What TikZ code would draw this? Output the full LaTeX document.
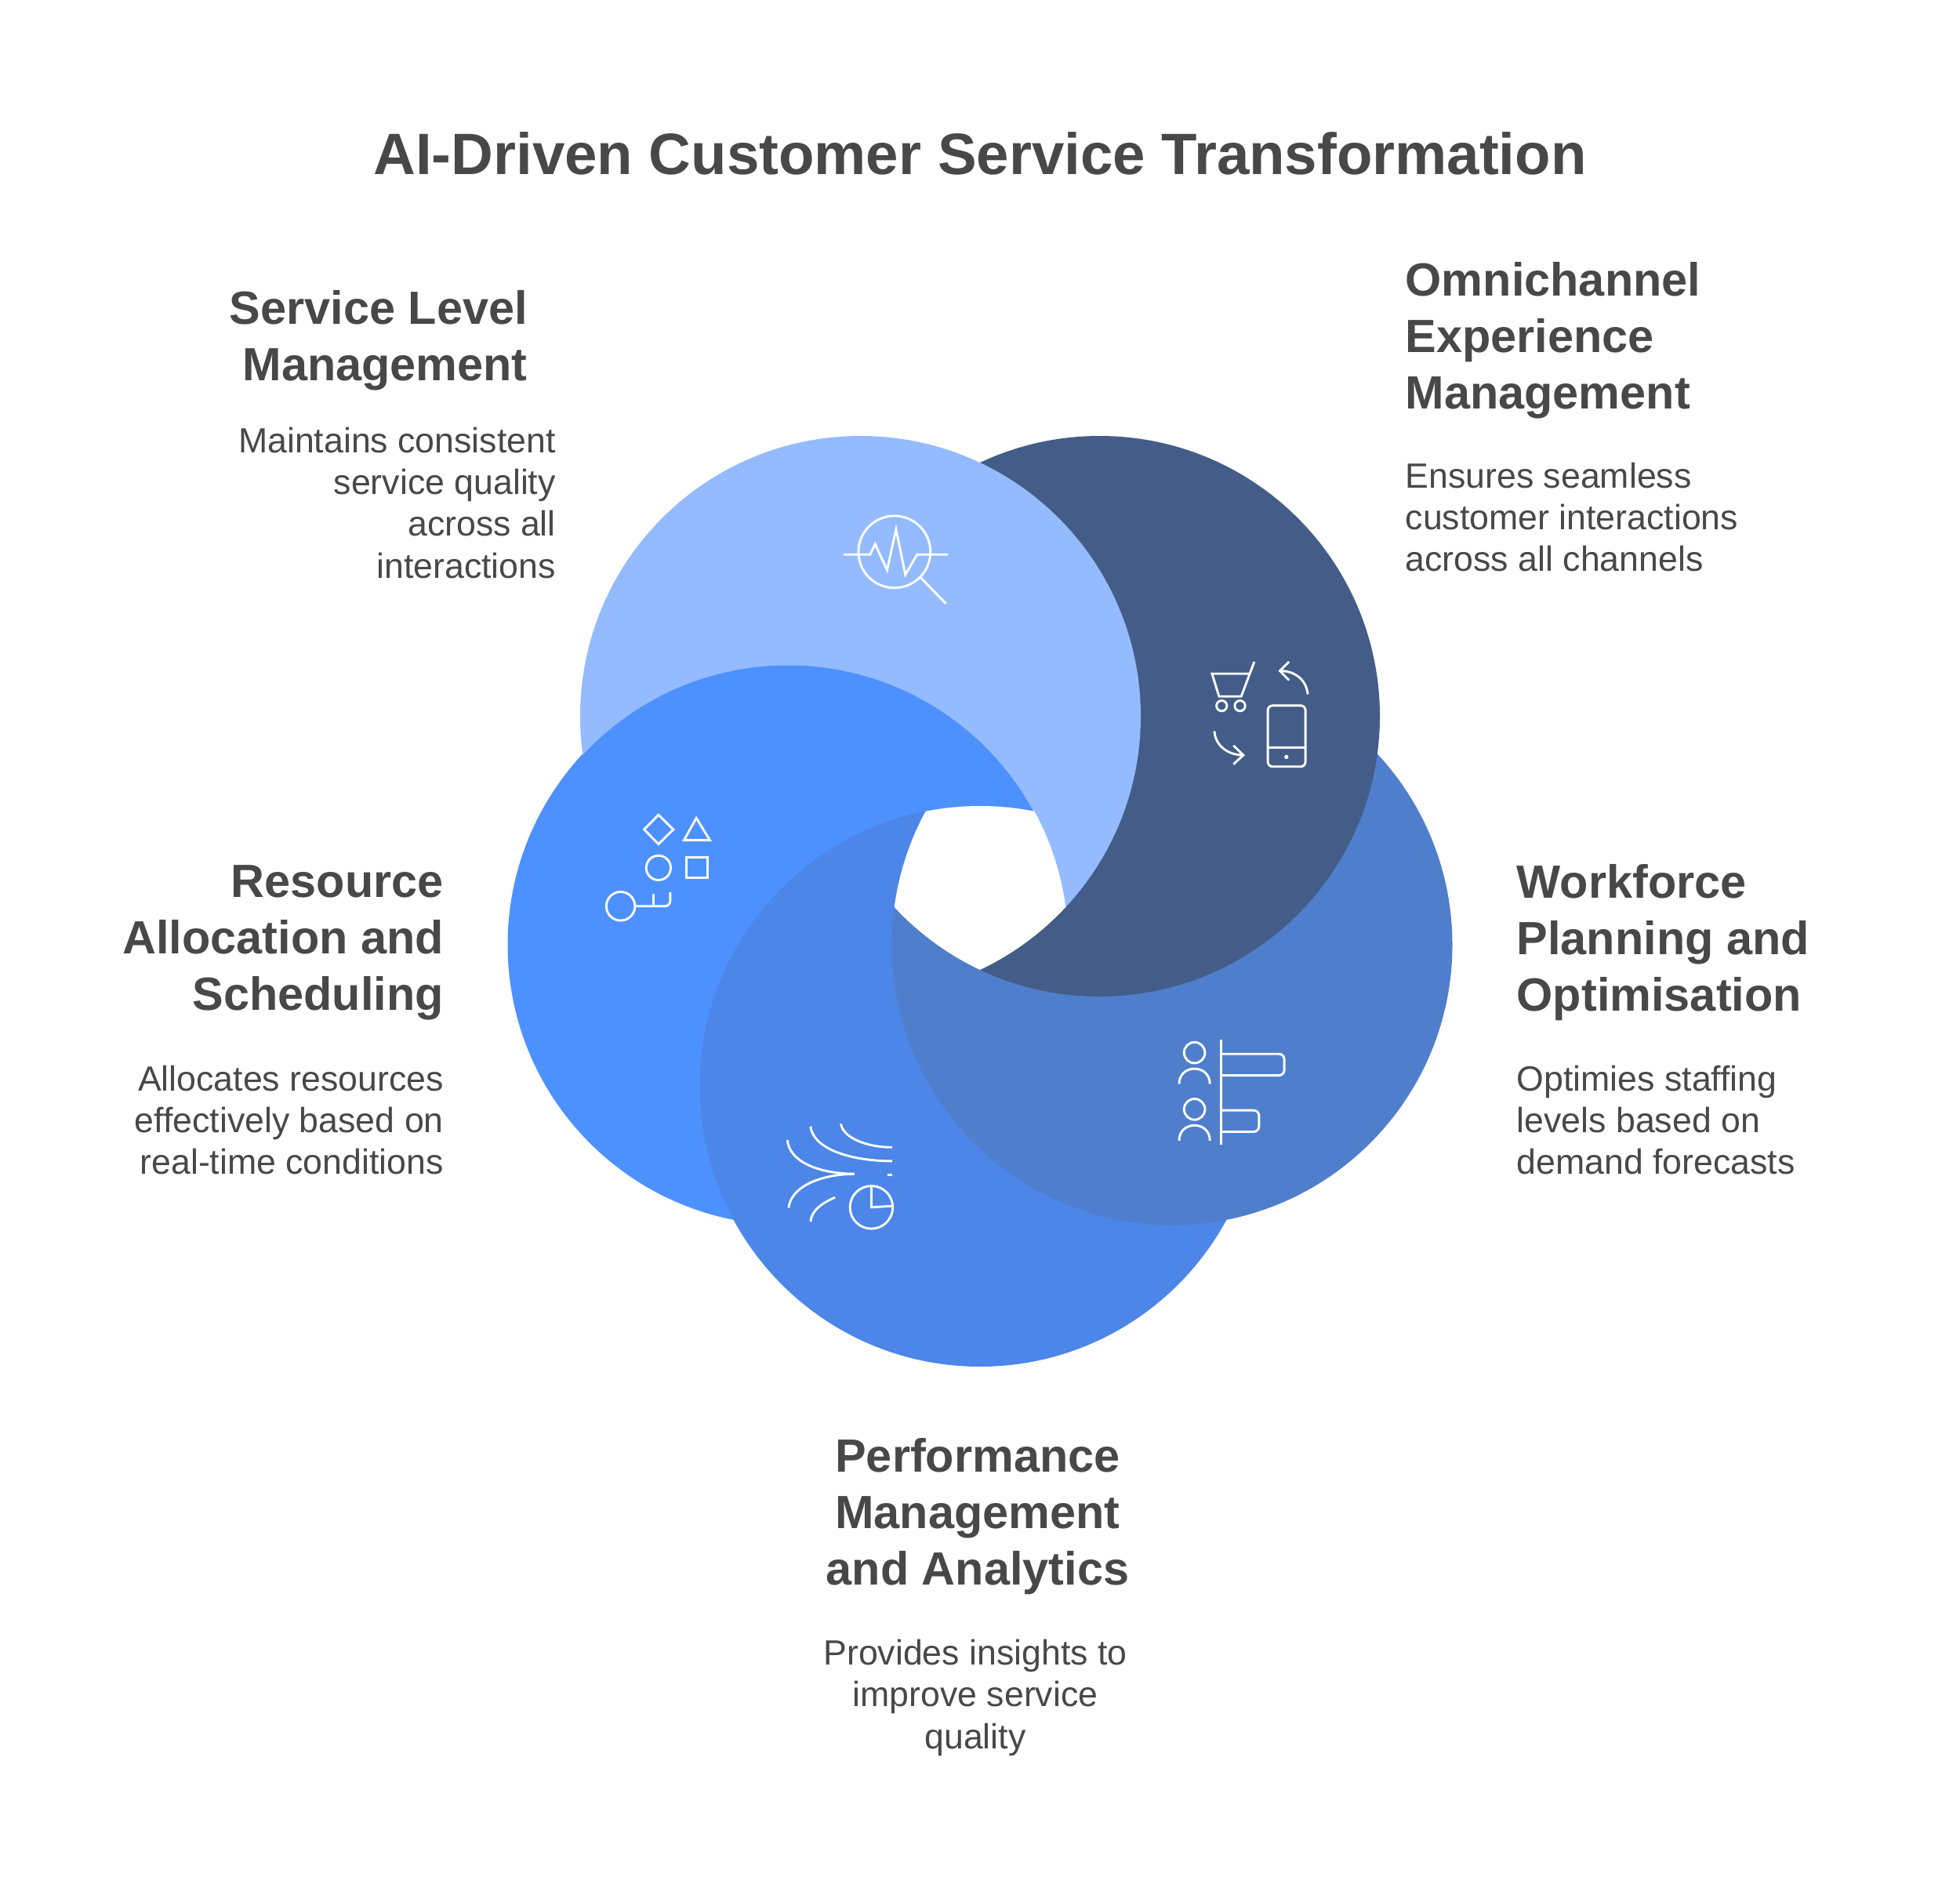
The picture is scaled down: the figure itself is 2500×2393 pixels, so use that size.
\documentclass[tikz,border=0pt]{standalone}
\usepackage{fontspec}
\setmainfont{Liberation Sans}
\definecolor{cLight}{HTML}{94BBFF}
\definecolor{cDark}{HTML}{435D88}
\definecolor{cWork}{HTML}{4F7FCC}
\definecolor{cPerf}{HTML}{4C86E8}
\definecolor{cRes}{HTML}{4D91FF}
\definecolor{cText}{HTML}{484848}
\newcommand\discL{(1097.5,913.5) circle[radius=357.5]}
\newcommand\discD{(1402.5,913.5) circle[radius=357.5]}
\newcommand\discW{(1495,1205) circle[radius=357.5]}
\newcommand\discP{(1250,1385.5) circle[radius=357.5]}
\newcommand\discR{(1005,1205) circle[radius=357.5]}
% a disc without (most of) the disc that lies above it
\newcommand\crescent[4]{%
  \begin{scope}[even odd rule]
    \clip (0,0) rectangle (2500,2393) #3 circle[radius=#4];
    \fill[#1] #2;
  \end{scope}}
\tikzset{
  titletext/.style={font=\fontsize{21.17pt}{24pt}\bfseries\selectfont,text=cText,inner sep=0pt},
  headtext/.style={font=\fontsize{16.9pt}{20.48pt}\bfseries\selectfont,text=cText,inner sep=0pt},
  bodytext/.style={font=\fontsize{12.7pt}{15.2pt}\selectfont,text=cText,inner sep=0pt},
  icon/.style={draw=white,line width=0.82pt,line join=miter,line cap=butt,fill=none},
  iconscope/.style={x=0.0033333cm,y=-0.0033333cm}
}
\begin{document}
\begin{tikzpicture}[x=0.01cm,y=-0.01cm]
\useasboundingbox (0,0) rectangle (2500,2393);
\fill[white] (0,0) rectangle (2500,2393);
\crescent{cRes}{\discR}{(1250,1385.5)}{356.5}
\crescent{cPerf}{\discP}{(1495,1205)}{356.5}
\crescent{cWork}{\discW}{(1402.5,913.5)}{356.5}
\crescent{cDark}{\discD}{(1097.5,913.5)}{356.5}
\crescent{cLight}{\discL}{(1005,1205)}{356.5}
% the hole in the middle, common to all five discs
\begin{scope}
  \clip \discL;
  \clip \discR;
  \clip \discP;
  \clip \discW;
  \clip \discD;
  \fill[white] (1000,900) rectangle (1500,1400);
\end{scope}
% icon: service level
\begin{scope}[shift={(1040,620)},iconscope]
  \draw[icon] (303,252) circle[radius=138];
  \draw[icon] (108,262)--(210,262)--(229,222)--(275,322)--(309,165)--(345,340)--(390,262)--(508,262);
  \draw[icon] (405,352)--(500,450);
\end{scope}
% icon: omnichannel
\begin{scope}[shift={(1510,820)},iconscope]
  \draw[icon] (270,72)--(220,205)--(135,205)--(108,118)--(250,118);
  \draw[icon] (145,241) circle[radius=20];
  \draw[icon] (215,241) circle[radius=20];
  \draw[icon] (475,197) .. controls (470,145) and (430,107) .. (368,107);
  \draw[icon] (403,72)--(368,107)--(403,143);
  \draw[icon] (117,338) .. controls (120,390) and (165,430) .. (228,430);
  \draw[icon] (190,393)--(228,430)--(190,465);
  \draw[icon,rounded corners=1.7pt] (322,240) rectangle (466,474);
  \draw[icon] (322,400)--(466,400);
  \fill[white] (393,437) circle[radius=8];
\end{scope}
% icon: workforce
\begin{scope}[shift={(1480,1300)},iconscope]
  \draw[icon] (131,128) circle[radius=40];
  \draw[icon] (131,345) circle[radius=40];
  \draw[icon] (72,248) .. controls (72,170) and (190,170) .. (190,248);
  \draw[icon] (72,465) .. controls (72,387) and (190,387) .. (190,465);
  \draw[icon] (233,77)--(233,480);
  \draw[icon,rounded corners=1.9pt] (233,133)--(475,133)--(475,215)--(233,215);
  \draw[icon,rounded corners=1.9pt] (233,349)--(378,349)--(378,431)--(233,431);
\end{scope}
% icon: performance
\begin{scope}[shift={(980,1430)},iconscope]
  \draw[icon] (73,72) .. controls (80,150) and (180,200) .. (330,202);
  \draw[icon] (78,332) .. controls (85,260) and (180,205) .. (330,202);
  \draw[icon] (162,20) .. controls (170,100) and (300,152) .. (475,153);
  \draw[icon] (278,10) .. controls (285,60) and (370,100) .. (475,100);
  \draw[icon] (256,292) .. controls (210,312) and (165,340) .. (162,385);
  \draw[icon] (458,205)--(475,205);
  \draw[icon] (395,330) circle[radius=82];
  \draw[icon] (395,250)--(395,330)--(475,325);
\end{scope}
% icon: resource
\begin{scope}[shift={(760,1020)},iconscope]
  \draw[icon] (240,58)--(297,114)--(240,170)--(185,114)--cycle;
  \draw[icon] (385,70)--(437,155)--(338,155)--cycle;
  \draw[icon] (240,261) circle[radius=47];
  \draw[icon] (346,222) rectangle (427,300);
  \draw[icon] (95,408) circle[radius=55];
  \draw[icon,rounded corners=1.9pt] (150,408)--(285,408)--(285,355);
  \draw[icon] (220,408)--(220,362);
\end{scope}
% text
\node[titletext,anchor=base] (title) at (1250,222) {AI-Driven Customer Service Transformation};
\node[headtext,anchor=north east,align=right] (h1) at (673.5,369.5) {Service Level\\Management};
\node[bodytext,anchor=north east,align=right] (b1) at (709.5,544) {Maintains consistent\\service quality\\across all\\interactions};
\node[headtext,anchor=north west,align=left] (h2) at (1792,334) {Omnichannel\\Experience\\Management};
\node[bodytext,anchor=north west,align=left] (b2) at (1792,589) {Ensures seamless\\customer interactions\\across all channels};
\node[headtext,anchor=north east,align=right] (h3) at (566.5,1103) {Resource\\Allocation and\\Scheduling};
\node[bodytext,anchor=north east,align=right] (b3) at (566.5,1358) {Allocates resources\\effectively based on\\real-time conditions};
\node[headtext,anchor=north west,align=left] (h4) at (1934,1102) {Workforce\\Planning and\\Optimisation};
\node[bodytext,anchor=north west,align=left] (b4) at (1934,1358) {Optimies staffing\\levels based on\\demand forecasts};
\node[headtext,anchor=north,align=center] (h5) at (1247,1834) {Performance\\Management\\and Analytics};
\node[bodytext,anchor=north,align=center] (b5) at (1244,2090) {Provides insights to\\improve service\\quality};
\end{tikzpicture}
\end{document}
